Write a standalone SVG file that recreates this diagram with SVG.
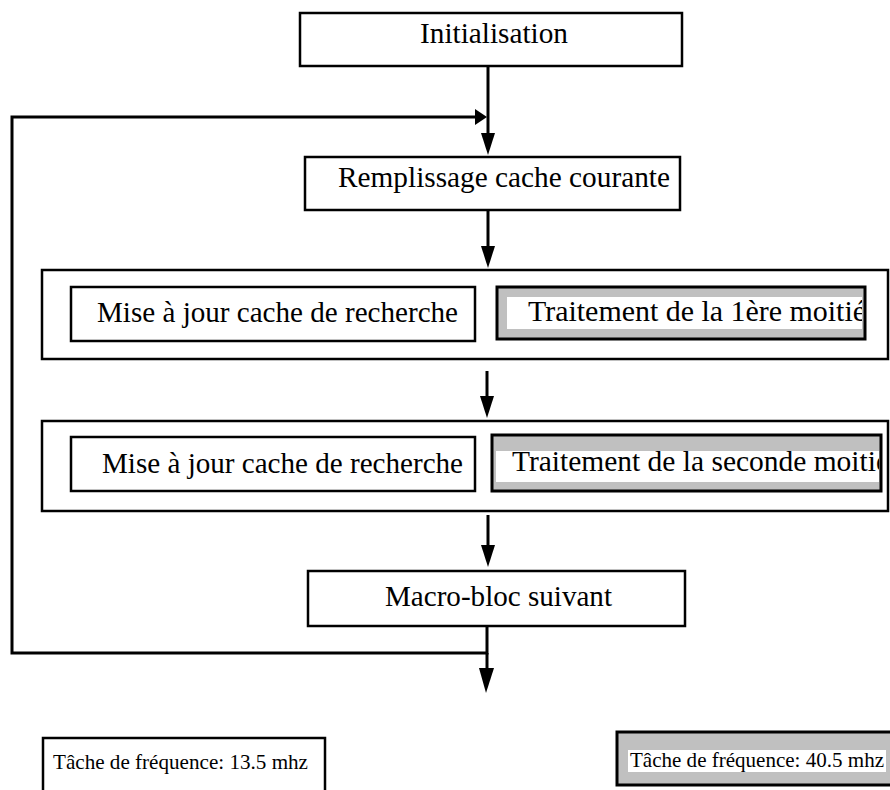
<svg xmlns="http://www.w3.org/2000/svg" width="890" height="790" viewBox="0 0 890 790">
<style>
.box{fill:#fff;stroke:#000;stroke-width:2.5}
.grey{fill:#c0c0c0;stroke:#000;stroke-width:3}
.hole{fill:#fff;stroke:none}
.t{font-family:"Liberation Serif","Times New Roman",serif;font-size:30px;fill:#000}
.s{font-family:"Liberation Serif","Times New Roman",serif;font-size:22px;fill:#000}
.ln{fill:none;stroke:#000;stroke-width:3}
.ah{fill:#000;stroke:none}
</style>
<defs>
<clipPath id="c1"><rect x="507" y="296" width="355" height="34"/></clipPath>
<clipPath id="c2"><rect x="497" y="450" width="382" height="33"/></clipPath>
</defs>
<g id="n-init">
<rect class="box" x="300" y="13" width="382" height="53"/>
<text class="t" x="420" y="43" textLength="148" lengthAdjust="spacingAndGlyphs">Initialisation</text>
</g>
<g id="n-remplissage">
<rect class="box" x="305" y="157" width="375" height="53"/>
<text class="t" x="338" y="187" textLength="332" lengthAdjust="spacingAndGlyphs">Remplissage cache courante</text>
</g>
<g id="n-etape1">
<rect class="box" x="42" y="270" width="846" height="89"/>
<g id="n-maj1">
<rect class="box" x="71" y="287" width="404" height="54"/>
<text class="t" x="97" y="322" textLength="361" lengthAdjust="spacingAndGlyphs">Mise à jour cache de recherche</text>
</g>
<g id="n-trait1">
<rect class="grey" x="497" y="287" width="368" height="52"/>
<rect class="hole" x="507" y="297" width="355" height="32"/>
<text class="t" x="528" y="321" clip-path="url(#c1)" textLength="338" lengthAdjust="spacingAndGlyphs">Traitement de la 1ère moitié</text>
</g>
</g>
<g id="n-etape2">
<rect class="box" x="42" y="421" width="846" height="90"/>
<g id="n-maj2">
<rect class="box" x="71" y="437" width="404" height="54"/>
<text class="t" x="102" y="473" textLength="361" lengthAdjust="spacingAndGlyphs">Mise à jour cache de recherche</text>
</g>
<g id="n-trait2">
<rect class="grey" x="492" y="435" width="389" height="56"/>
<rect class="hole" x="496" y="451" width="383" height="31"/>
<text class="t" x="512" y="471" clip-path="url(#c2)" textLength="377" lengthAdjust="spacingAndGlyphs">Traitement de la seconde moitié</text>
</g>
</g>
<g id="n-macro">
<rect class="box" x="308" y="571" width="377" height="55"/>
<text class="t" x="385" y="606" textLength="227" lengthAdjust="spacingAndGlyphs">Macro-bloc suivant</text>
</g>
<g id="n-freq1">
<rect class="box" x="43" y="738" width="282" height="60"/>
<text class="s" x="53" y="769" textLength="255" lengthAdjust="spacingAndGlyphs">Tâche de fréquence: 13.5 mhz</text>
</g>
<g id="n-freq2">
<rect class="grey" x="617" y="732" width="280" height="53"/>
<rect class="hole" x="628" y="750" width="258" height="22"/>
<text class="s" x="630" y="767" textLength="254" lengthAdjust="spacingAndGlyphs">Tâche de fréquence: 40.5 mhz</text>
</g>
<g id="connectors">
<line class="ln" x1="488" y1="66" x2="488" y2="140"/>
<polygon class="ah" points="481,133 495,133 488,155"/>
<path class="ln" d="M487,626 V653 H12 V117 H478"/>
<polygon class="ah" points="475,109 487,117 475,125"/>
<line class="ln" x1="488" y1="210" x2="488" y2="252"/>
<polygon class="ah" points="481,246 495,246 488,268"/>
<line class="ln" x1="487" y1="371" x2="487" y2="402"/>
<polygon class="ah" points="480,396 494,396 487,418"/>
<line class="ln" x1="488" y1="515" x2="488" y2="550"/>
<polygon class="ah" points="481,545 495,545 488,567"/>
<line class="ln" x1="487" y1="653" x2="487" y2="675"/>
<polygon class="ah" points="479,668 494,668 486,693"/>
</g>
</svg>
